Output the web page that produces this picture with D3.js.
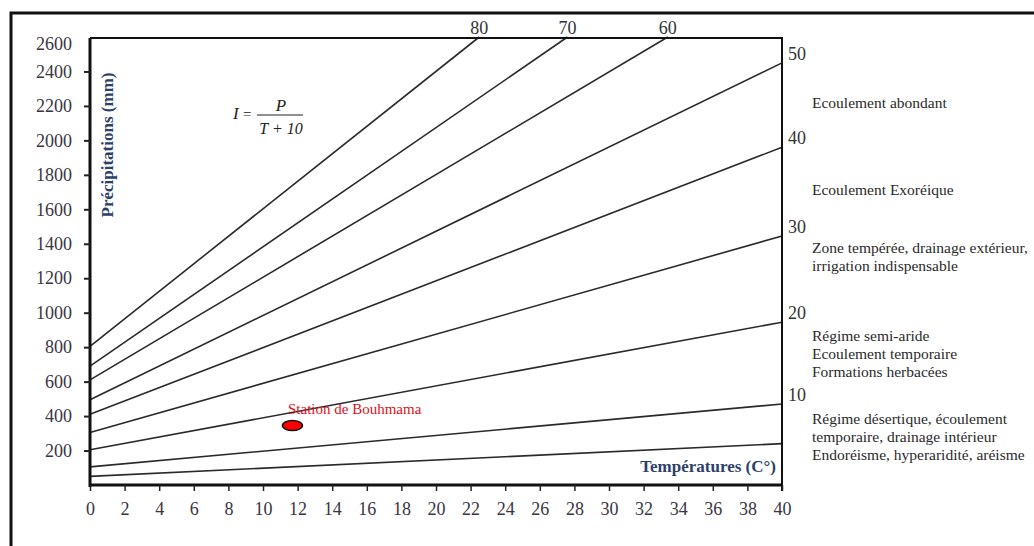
<!DOCTYPE html>
<html>
<head>
<meta charset="utf-8">
<script src="https://cdn.jsdelivr.net/npm/d3@7"></script>
<style>
  html, body { margin: 0; padding: 0; background: #fff; }
  svg { display: block; }
  text { font-family: "Liberation Serif", "Times New Roman", serif; }
</style>
</head>
<body>
<svg id="chart" width="1034" height="546"></svg>
<script>
// ---- data ----
const indexValues = [5, 10, 20, 30, 40, 50, 60, 70, 80];        // De Martonne index I
const lineStartT  = [0, 0, 0, 0, 0, 0, 0, 0, 0];
const lineStartP  = [50, 105, 205, 305, 410, 495, 610, 690, 805];
const lineEndT    = [40, 40, 40, 40, 40, 40, 33.4, 27.6, 22.5];
const lineEndP    = [240, 470, 945, 1445, 1960, 2450, 2600, 2600, 2600];
const rightLabels = ["10", "20", "30", "40", "50"];
const topLabels   = ["60", "70", "80"];
const xTickValues = [0, 2, 4, 6, 8, 10, 12, 14, 16, 18, 20, 22, 24, 26, 28, 30, 32, 34, 36, 38, 40];
const yTickValues = [200, 400, 600, 800, 1000, 1200, 1400, 1600, 1800, 2000, 2200, 2400, 2600];
const stationName = "Station de Bouhmama";
const stationT = 11.7;
const stationP = 345;
const zoneNotes = [
  ["Ecoulement abondant"],
  ["Ecoulement Exoréique"],
  ["Zone tempérée, drainage extérieur,", "irrigation indispensable"],
  ["Régime semi-aride", "Ecoulement temporaire", "Formations herbacées"],
  ["Régime désertique, écoulement", "temporaire, drainage intérieur", "Endoréisme, hyperaridité, aréisme"]
];
const yTitle = "Précipitations (mm)";
const xTitle = "Températures (C°)";

// ---- layout ----
const svg = d3.select("#chart");
const L = 90, R = 782, T = 37, B = 485;
const x = d3.scaleLinear().domain([0, 40]).range([L, R]);
const y = d3.scaleLinear().domain([0, 2600]).range([B, T]);

// outer frame
svg.append("rect").attr("x", 11).attr("y", 13).attr("width", 1060).attr("height", 580)
  .attr("fill", "none").attr("stroke", "#111").attr("stroke-width", 3);

// index lines
const lines = indexValues.map((v, i) => ({
  I: v, x0: lineStartT[i], y0: lineStartP[i], x1: lineEndT[i], y1: lineEndP[i]
}));
svg.append("g").selectAll("line").data(lines).join("line")
  .attr("x1", d => x(d.x0)).attr("y1", d => y(d.y0))
  .attr("x2", d => x(d.x1)).attr("y2", d => y(d.y1))
  .attr("stroke", "#2a2a2a").attr("stroke-width", 1.6);

// plot frame top & right
svg.append("line").attr("x1", L).attr("x2", R + 1).attr("y1", 38).attr("y2", 38)
  .attr("stroke", "#111").attr("stroke-width", 2.2);
svg.append("line").attr("x1", R).attr("x2", R).attr("y1", 38).attr("y2", B + 6)
  .attr("stroke", "#111").attr("stroke-width", 2);

// y axis
const yAxis = svg.append("g").attr("transform", `translate(${L},0)`)
  .call(d3.axisLeft(y).tickValues(yTickValues).tickSize(6).tickPadding(12).tickFormat(d3.format("d")));
yAxis.select(".domain").attr("d", `M0,${38}V${B + 2}`).attr("stroke", "#111").attr("stroke-width", 3);
yAxis.selectAll(".tick line").attr("stroke", "#222").attr("stroke-width", 2);
yAxis.selectAll(".tick text").attr("font-size", 18).attr("fill", "#3a3542")
  .attr("font-family", "Liberation Serif, serif");
yAxis.selectAll(".tick").filter(d => d === 2600).select("line").remove();
yAxis.selectAll(".tick").filter(d => d === 2600).select("text").attr("dy", "0.7em");

// x axis
const xAxis = svg.append("g").attr("transform", `translate(0,${B})`)
  .call(d3.axisBottom(x).tickValues(xTickValues).tickSize(6).tickPadding(11).tickFormat(d3.format("d")));
xAxis.select(".domain").attr("d", `M${L - 1},0H${R + 1}`).attr("stroke", "#111").attr("stroke-width", 3);
xAxis.selectAll(".tick line").attr("stroke", "#222").attr("stroke-width", 1.5);
xAxis.selectAll(".tick text").attr("font-size", 18).attr("fill", "#3a3542")
  .attr("font-family", "Liberation Serif, serif");

// right index labels
const rightData = lines.filter(d => d.x1 === 40 && rightLabels.includes(String(d.I)));
svg.append("g").selectAll("text").data(rightData).join("text")
  .attr("x", R + 6).attr("y", d => y(d.y1) - 3)
  .attr("font-size", 18).attr("fill", "#333")
  .text(d => d.I);

// top index labels
const topData = lines.filter(d => topLabels.includes(String(d.I)));
svg.append("g").selectAll("text").data(topData).join("text")
  .attr("x", d => x(d.x1)).attr("y", 34).attr("text-anchor", "middle")
  .attr("font-size", 18).attr("fill", "#333")
  .text(d => d.I);

// zone notes
const noteBaselines = [108, 195, 253, 341, 424];
const noteG = svg.append("g");
zoneNotes.forEach((lns, i) => {
  lns.forEach((t, j) => {
    noteG.append("text").attr("x", 812).attr("y", noteBaselines[i] + j * 18)
      .attr("font-size", 15.5).attr("fill", "#2a2a2a").text(t);
  });
});

// formula
const fg = svg.append("g").attr("font-style", "italic").attr("fill", "#222");
fg.append("text").attr("x", 233).attr("y", 119).attr("font-size", 17).text("I");
fg.append("text").attr("x", 242).attr("y", 119).attr("font-size", 15).text("=");
fg.append("text").attr("x", 281).attr("y", 111).attr("font-size", 17).attr("text-anchor", "middle").text("P");
fg.append("line").attr("x1", 257).attr("x2", 303).attr("y1", 115).attr("y2", 115)
  .attr("stroke", "#222").attr("stroke-width", 1.1);
fg.append("text").attr("x", 281).attr("y", 134).attr("font-size", 16).attr("text-anchor", "middle")
  .attr("xml:space", "preserve").text("T + 10");

// axis titles
svg.append("text").attr("transform", `translate(113,145) rotate(-90)`)
  .attr("text-anchor", "middle").attr("font-size", 17).attr("font-weight", "bold")
  .attr("fill", "#2d3f6b").text(yTitle);
svg.append("text").attr("x", 776).attr("y", 472).attr("text-anchor", "end")
  .attr("font-size", 17).attr("font-weight", "bold").attr("fill", "#2d3f6b").text(xTitle);

// station
svg.append("ellipse").attr("cx", x(stationT)).attr("cy", y(stationP)).attr("rx", 10).attr("ry", 5)
  .attr("fill", "#ff0000").attr("stroke", "#111").attr("stroke-width", 1.5);
svg.append("text").attr("x", 288).attr("y", 414).attr("font-size", 15).attr("fill", "#e0101a")
  .text(stationName);
</script>
</body>
</html>
